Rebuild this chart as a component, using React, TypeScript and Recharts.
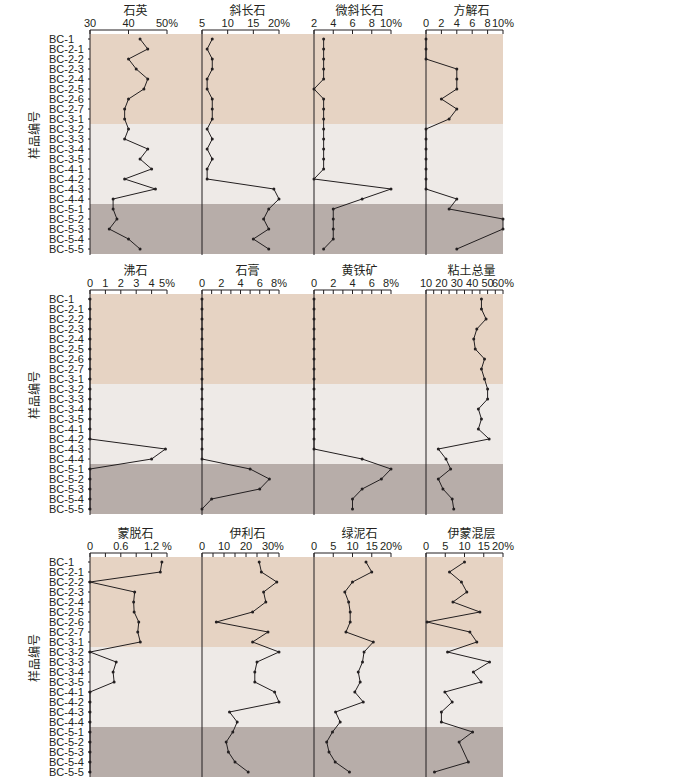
import React from "react";
import { LineChart, Line, XAxis, YAxis, ReferenceArea } from "recharts";

const samples = [
  "BC-1", "BC-2-1", "BC-2-2", "BC-2-3", "BC-2-4", "BC-2-5", "BC-2-6", "BC-2-7", "BC-3-1",
  "BC-3-2", "BC-3-3", "BC-3-4", "BC-3-5", "BC-4-1", "BC-4-2", "BC-4-3", "BC-4-4",
  "BC-5-1", "BC-5-2", "BC-5-3", "BC-5-4", "BC-5-5",
];

// mineral contents (%), one value per sample, top to bottom
const quartz = [43, 45, 40, 42, 45, 44, 40, 39, 39, 40, 39, 45, 43, 46, 39, 47, 36, 36, 37, 35, 40, 43];
const plagioclase = [7, 6, 7, 7, 6, 6, 7, 7, 7, 6, 7, 6, 7, 6, 6, 19, 20, 18, 17, 18, 15, 18];
const microcline = [3, 3, 3, 3, 3, 2, 3, 3, 3, 3, 3, 3, 3, 3, 2, 10, 7, 4, 4, 4, 4, 3];
const calcite = [0, 0, 0, 4, 4, 4, 2, 4, 3, 0, 0, 0, 0, 0, 0, 0, 4, 3, 10, 10, null, 4];
const zeolite = [0, 0, 0, 0, 0, 0, 0, 0, 0, 0, 0, 0, 0, 0, 0, 4.9, 4, 0, 0, 0, 0, 0];
const gypsum = [0, 0, 0, 0, 0, 0, 0, 0, 0, 0, 0, 0, 0, 0, 0, 0, 0, 5, 7, 6, 1, 0];
const pyrite = [0, 0, 0, 0, 0, 0, 0, 0, 0, 0, 0, 0, 0, 0, 0, 0, 5, 8, 7, 5, 4, 4];
const clayTotal = [46, 46, 49, 43, 41, 42, 48, 46, 48, 50, 50, 44, 46, 44, 51, 18, 23, 26, 18, 21, 27, 28];
const montmorillonite = [1.4, 1.37, 0, 0.87, 0.85, 0.86, 0.95, 0.93, 0.98, 0, 0.51, 0.45, 0.47, 0, 0, 0, 0, 0, 0, 0, 0, 0];
const illite = [26, 27, 34, 28, 29, 23, 6.5, 30, 23, 35, 25, 24, 24, 33, 35, 12.5, 16, 14, 11, 12, 15, 21];
const chlorite = [13.5, 15, 10, 8, 9, 9.4, 9.4, 8.3, 15.4, 13, 12.6, 11.5, 12, 10.6, 12.8, 5.6, 6.8, 4.8, 3.3, 3.9, 5.5, 9.2];
const illiteSmectite = [10, 6.1, 9.2, 10.6, 7, 14, 0.3, 11.4, 13.2, 5.6, 16.5, 12.3, 14.3, 4.9, 6.8, 4, 4, 12.1, 8.6, null, 11, 2.2];

// sample groups shaded behind the curves
const bandStart = ["BC-1", "BC-3-2", "BC-5-1"];
const bandEnd = ["BC-3-1", "BC-4-4", "BC-5-5"];
const bandColors = ["#e6d3c3", "#eeeae7", "#b7ada9"];

// axis ticks and their labels
const quartzTicks = [30, 40, 50];
const quartzLabels = ["30", "40", "50%"];
const plagTicks = [5, 10, 15, 20];
const plagLabels = ["5", "10", "15", "20%"];
const microTicks = [2, 4, 6, 8, 10];
const microLabels = ["2", "4", "6", "8", "10%"];
const calciteTicks = [0, 2, 4, 6, 8, 10];
const calciteLabels = ["0", "2", "4", "6", "8", "10%"];
const zeoliteTicks = [0, 1, 2, 3, 4, 5];
const zeoliteLabels = ["0", "1", "2", "3", "4", "5%"];
const eightTicks = [0, 1, 2, 3, 4, 5, 6, 7, 8];
const eightLabels = ["0", "", "2", "", "4", "", "6", "", "8%"];
const clayTicks = [10, 15, 20, 25, 30, 35, 40, 45, 50, 55, 60];
const clayLabels = ["10", "", "20", "", "30", "", "40", "", "50", "", "60%"];
const montTicks = [0, 0.3, 0.6, 0.9, 1.2, 1.5];
const montLabels = ["0", "", "0.6", "", "1.2", "%"];
const illiteTicks = [0, 5, 10, 15, 20, 25, 30, 35];
const illiteLabels = ["0", "", "10", "", "20", "", "30", "%"];
const twentyTicks = [0, 5, 10, 15, 20];
const twentyLabels = ["0", "5", "10", "15", "20%"];

const rows = samples.map((name, idx) => ({
  idx,
  name,
  quartz: quartz[idx],
  plagioclase: plagioclase[idx],
  microcline: microcline[idx],
  calcite: calcite[idx],
  zeolite: zeolite[idx],
  gypsum: gypsum[idx],
  pyrite: pyrite[idx],
  clayTotal: clayTotal[idx],
  montmorillonite: montmorillonite[idx],
  illite: illite[idx],
  chlorite: chlorite[idx],
  illiteSmectite: illiteSmectite[idx],
}));

type PanelCfg = { key: string; title: string; ticks: number[]; labels: string[] };

const panelRows: PanelCfg[][] = [
  [
    { key: "quartz", title: "石英", ticks: quartzTicks, labels: quartzLabels },
    { key: "plagioclase", title: "斜长石", ticks: plagTicks, labels: plagLabels },
    { key: "microcline", title: "微斜长石", ticks: microTicks, labels: microLabels },
    { key: "calcite", title: "方解石", ticks: calciteTicks, labels: calciteLabels },
  ],
  [
    { key: "zeolite", title: "沸石", ticks: zeoliteTicks, labels: zeoliteLabels },
    { key: "gypsum", title: "石膏", ticks: eightTicks, labels: eightLabels },
    { key: "pyrite", title: "黄铁矿", ticks: eightTicks, labels: eightLabels },
    { key: "clayTotal", title: "粘土总量", ticks: clayTicks, labels: clayLabels },
  ],
  [
    { key: "montmorillonite", title: "蒙脱石", ticks: montTicks, labels: montLabels },
    { key: "illite", title: "伊利石", ticks: illiteTicks, labels: illiteLabels },
    { key: "chlorite", title: "绿泥石", ticks: twentyTicks, labels: twentyLabels },
    { key: "illiteSmectite", title: "伊蒙混层", ticks: twentyTicks, labels: twentyLabels },
  ],
];

// layout
const INK = "#231f20";
const PANEL_X = [90, 202, 314, 426];
const PLOT_W = 77;
const ROW_AXIS_Y = [30, 290, 553];
const XAXIS_H = 24;
const PLOT_H = 225;
const RIGHT = 16;
const Y_DOMAIN: [number, number] = [-0.9, 21.6];
const idxTicks = samples.map((_, i) => i);

const SampleTick = (props: any) => (
  <text x={props.x - 39} y={props.y} dy={4} fontSize={11} fill={INK} textAnchor="start">
    {samples[props.payload.value]}
  </text>
);

function Bands({ top }: { top: number }) {
  return (
    <LineChart
      width={PANEL_X[3] + PLOT_W - PANEL_X[0]}
      height={PLOT_H}
      data={rows}
      layout="vertical"
      margin={{ top: 0, right: 0, bottom: 0, left: 0 }}
      style={{ position: "absolute", left: PANEL_X[0], top }}
    >
      <XAxis type="number" hide domain={[0, 1]} allowDataOverflow />
      <YAxis type="number" dataKey="idx" hide domain={Y_DOMAIN} />
      {bandStart.map((s, i) => (
        <ReferenceArea
          key={s}
          x1={0}
          x2={1}
          y1={samples.indexOf(s) - 0.5}
          y2={samples.indexOf(bandEnd[i]) + 0.5}
          fill={bandColors[i]}
          fillOpacity={1}
          stroke="none"
          ifOverflow="visible"
        />
      ))}
      <Line dataKey="idx" stroke="none" dot={false} activeDot={false} isAnimationActive={false} />
    </LineChart>
  );
}

function Panel({ cfg, col, axisY }: { cfg: PanelCfg; col: number; axisY: number }) {
  const first = col === 0;
  const yW = first ? 90 : 6;
  const { ticks, labels } = cfg;
  return (
    <LineChart
      width={yW + PLOT_W + RIGHT}
      height={XAXIS_H + PLOT_H}
      data={rows}
      layout="vertical"
      margin={{ top: 0, right: RIGHT, bottom: 0, left: 0 }}
      style={{ position: "absolute", left: PANEL_X[col] - yW, top: axisY - XAXIS_H, overflow: "visible" }}
    >
      <XAxis
        type="number"
        orientation="top"
        domain={[ticks[0], ticks[ticks.length - 1]]}
        ticks={ticks}
        interval={0}
        tickFormatter={(v: number) => labels[ticks.indexOf(v)] ?? ""}
        tickSize={-4}
        tickMargin={7}
        height={XAXIS_H}
        axisLine={{ stroke: INK }}
        tickLine={{ stroke: INK }}
        tick={{ fontSize: 11, fill: INK }}
      />
      <YAxis
        type="number"
        dataKey="idx"
        domain={Y_DOMAIN}
        ticks={idxTicks}
        interval={0}
        width={yW}
        tickSize={2}
        tickMargin={0}
        axisLine={{ stroke: INK }}
        tickLine={{ stroke: INK }}
        tick={first ? SampleTick : false}
      />
      <Line
        dataKey={cfg.key}
        stroke={INK}
        strokeWidth={1}
        dot={{ r: 1.5, fill: INK, stroke: "none" }}
        connectNulls
        isAnimationActive={false}
      />
    </LineChart>
  );
}

export default function App() {
  return (
    <div
      style={{
        position: "absolute",
        left: 0,
        top: 0,
        width: 700,
        height: 777,
        background: "#fff",
        fontFamily: '"Liberation Sans", Arial, "Noto Sans CJK SC", sans-serif',
        color: INK,
        overflow: "hidden",
      }}
    >
      {panelRows.map((panels, r) => {
        const axisY = ROW_AXIS_Y[r];
        return (
          <React.Fragment key={r}>
            <Bands top={axisY} />
            {panels.map((cfg, c) => (
              <React.Fragment key={cfg.key}>
                <div
                  style={{
                    position: "absolute",
                    left: PANEL_X[c] + PLOT_W / 2 + 7,
                    top: axisY - 21,
                    transform: "translate(-50%, -50%)",
                    fontSize: 12,
                    whiteSpace: "nowrap",
                    fontFamily: '"Noto Sans CJK SC", sans-serif',
                  }}
                >
                  {cfg.title}
                </div>
                <Panel cfg={cfg} col={c} axisY={axisY} />
              </React.Fragment>
            ))}
            <div
              style={{
                position: "absolute",
                left: 33,
                top: axisY + 105,
                transform: "translate(-50%, -50%) rotate(-90deg)",
                fontSize: 12,
                whiteSpace: "nowrap",
                fontFamily: '"Noto Sans CJK SC", sans-serif',
              }}
            >
              样品编号
            </div>
          </React.Fragment>
        );
      })}
    </div>
  );
}
